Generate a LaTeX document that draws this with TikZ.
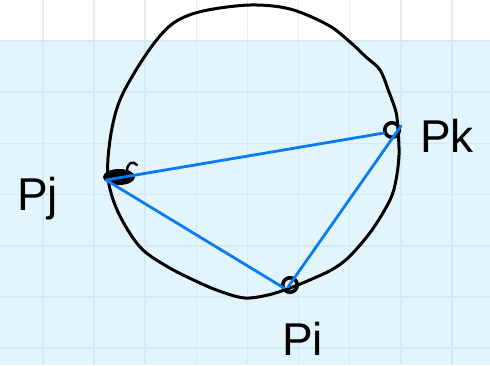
\documentclass[tikz,border=0pt]{standalone}
\usepackage{fontspec}
\setmainfont{Liberation Sans}
\begin{document}
\begin{tikzpicture}[x=1pt,y=-1pt,
  ink/.style={draw=black,line width=3pt,line cap=round,line join=round},
  chord/.style={draw=penblue,line width=2.8pt,line cap=round},
  ptmark/.style={circle,draw=black,line width=3.6pt,inner sep=0pt,minimum size=14.5pt},
  lbl/.style={font=\fontsize{46}{46}\selectfont,inner sep=0pt}]
\definecolor{penblue}{HTML}{0A7BF5}
\definecolor{paper}{HTML}{E3F5FC}
\definecolor{gridb}{HTML}{D4EAF3}
\definecolor{gridw}{HTML}{EBEBEB}
\useasboundingbox (0,0) rectangle (490,365);
\fill[white] (0,0) rectangle (490,41);
\fill[paper] (0,41) rectangle (490,365);
\foreach \k in {0,...,8} {
  \draw[gridw,line width=1.6pt] ({43+51.1*\k},0) -- ({43+51.1*\k},41);
  \draw[gridb,line width=1.6pt] ({43+51.1*\k},41) -- ({43+51.1*\k},365);
}
\foreach \k in {0,...,6} {
  \draw[gridb,line width=1.6pt] (0,{41+51.2*\k}) -- (490,{41+51.2*\k});
}
% hand-drawn circle
\draw[ink] plot[smooth cycle,tension=0.55] coordinates {
 (250,5) (290,9) (328,25) (350,42) (366,57) (380,70) (389,92) (396,112)
 (398,130) (399,155) (396,180) (390,200) (372,230) (350,256) (333,269)
 (312,279) (290,288) (268,295) (245,298) (222,292) (200,283) (168,267) (140,247)
 (118,212) (108,178) (110,140) (118,105) (133,75) (155,42) (175,22) (203,11)};
% point markers
\node[ptmark] (mk) at (392,130) {};
\node[ptmark] (mi) at (290,285) {};
\fill[black] (119,177) ellipse [x radius=16pt,y radius=8pt];
\draw[ink,line width=2.4pt] (127,171) .. controls (127,163) and (133,160) .. (137,165);
% chord end points
\coordinate (pj) at (106,180);
\coordinate (pk) at (401,126);
\coordinate (pkl) at (384,133);
\coordinate (pi) at (284,288);
\coordinate (pil) at (288,287);
\draw[chord] (pj) -- (pkl);
\draw[chord] (pj) -- (pi);
\draw[chord] (pil) -- (pk);
% labels
\node[lbl,anchor=base west] (lj) at (17,210) {Pj};
\node[lbl,anchor=base west] (lk) at (420,152) {Pk};
\node[lbl,anchor=base west] (li) at (282,355) {Pi};
\end{tikzpicture}
\end{document}
